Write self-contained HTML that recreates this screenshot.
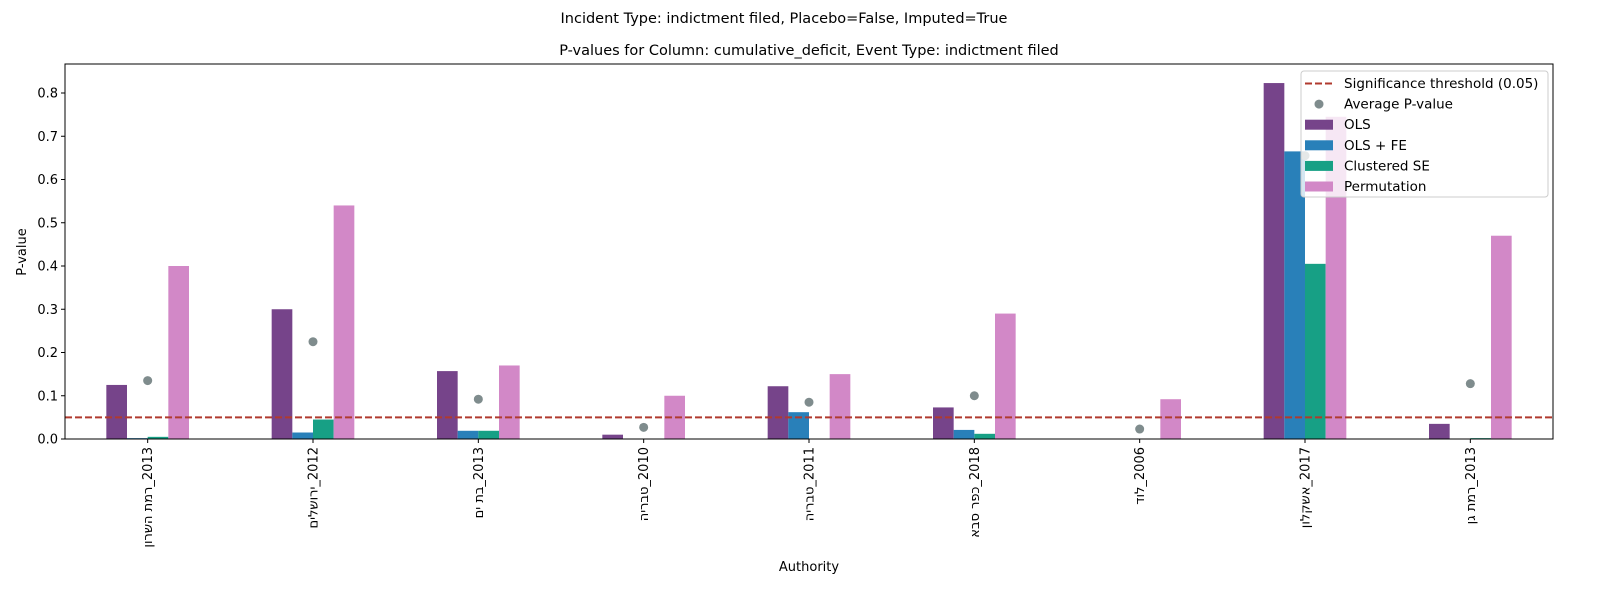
<!DOCTYPE html>
<html><head><meta charset="utf-8"><style>
body{margin:0;background:#fff}
svg text{font-family:"DejaVu Sans","Liberation Sans","Noto Sans CJK SC",sans-serif;fill:#000}
</style></head><body>
<svg id="chart" width="1600" height="600" xmlns="http://www.w3.org/2000/svg">
<text x="784" y="23" font-size="14.5" text-anchor="middle">Incident Type: indictment filed, Placebo=False, Imputed=True</text>
<text x="809" y="55" font-size="14.5" text-anchor="middle">P-values for Column: cumulative_deficit, Event Type: indictment filed</text>
<g id="plot"></g>
<text transform="translate(26,252) rotate(-90)" font-size="13" text-anchor="middle">P-value</text>
<text x="809" y="571" font-size="13" text-anchor="middle">Authority</text>
</svg>
<script>
const categories=["רמת השרון\u200E_2013","ירושלים\u200E_2012","בת ים\u200E_2013","טבריה\u200E_2010","טבריה\u200E_2011","כפר סבא\u200E_2018","לוד\u200E_2006","אשקלון\u200E_2017","רמת גן\u200E_2013"];
const olsValues=[0.125,0.30,0.157,0.010,0.122,0.073,0,0.823,0.035];
const olsFeValues=[0.002,0.015,0.019,0,0.062,0.021,0,0.665,0];
const clusteredValues=[0.005,0.045,0.019,0,0,0.012,0,0.405,0.002];
const permutationValues=[0.40,0.54,0.17,0.10,0.15,0.29,0.092,0.745,0.47];
const averageValues=[0.135,0.225,0.092,0.027,0.085,0.10,0.023,0.655,0.128];
const yTicks=[0,0.1,0.2,0.3,0.4,0.5,0.6,0.7,0.8];
const threshold=0.05;

const NS="http://www.w3.org/2000/svg";
const L=65,R=1553,T=64,B=439;
const yScale=v=>B-v*432.5;
const step=(R-L)/categories.length;
const xCenter=i=>L+step*(i+0.5);
const bw=step*0.125;
const g=document.getElementById('plot');
function mk(tag,attrs){const e=document.createElementNS(NS,tag);for(const k in attrs)e.setAttribute(k,attrs[k]);g.appendChild(e);return e;}

const series=[[olsValues,"#76448a","ols"],[olsFeValues,"#2980b9","ols-fe"],[clusteredValues,"#17a085","clustered-se"],[permutationValues,"#d288c7","permutation"]];
series.forEach((s,si)=>{
  s[0].forEach((v,i)=>{
    const x=xCenter(i)-2*bw+si*bw;
    const r=mk('rect',{x:x,y:yScale(v),width:bw,height:B-yScale(v),fill:s[1]});
    
    
  });
});
const th=mk('line',{x1:L,x2:R,y1:yScale(threshold),y2:yScale(threshold),stroke:"#b03a2e","stroke-width":2,"stroke-dasharray":"7,3"});


averageValues.forEach((v,i)=>{
  const c=mk('circle',{cx:xCenter(i),cy:yScale(v),r:4.5,fill:"#7f8c8d"});
  
  
});
yTicks.forEach(t=>{
  const y=yScale(t);
  mk('line',{x1:L-4,x2:L,y1:y,y2:y,stroke:"#000"});
  const tx=mk('text',{x:L-7,y:y+4.5,"font-size":13,"text-anchor":"end"});
  tx.textContent=t.toFixed(1);
  
  
});
categories.forEach((c,i)=>{
  const x=xCenter(i);
  mk('line',{x1:x,x2:x,y1:B,y2:B+4,stroke:"#000"});
  const tx=mk('text',{transform:`translate(${x+4.5},${B+8}) rotate(-90)`,"font-size":13,"text-anchor":"end",direction:"ltr"});
  tx.textContent=c;
  
  
});
const frame=mk('rect',{x:L,y:T,width:R-L,height:B-T,fill:"none",stroke:"#000","stroke-width":1});



const lg=mk('rect',{x:1301,y:71,width:247,height:126,rx:3,fill:"#fff","fill-opacity":0.8,stroke:"#ccc"});


const entries=[["line","#b03a2e","Significance threshold (0.05)"],["dot","#7f8c8d","Average P-value"],["rect","#76448a","OLS"],["rect","#2980b9","OLS + FE"],["rect","#17a085","Clustered SE"],["rect","#d288c7","Permutation"]];
entries.forEach((e,i)=>{
  const y=83.5+i*20.6;
  if(e[0]==="line")mk('line',{x1:1305,x2:1333,y1:y,y2:y,stroke:e[1],"stroke-width":2,"stroke-dasharray":"7,3"});
  else if(e[0]==="dot")mk('circle',{cx:1319,cy:y,r:4.5,fill:e[1]});
  else mk('rect',{x:1305,y:y-5,width:28,height:10,fill:e[1]});
  const tx=mk('text',{x:1344,y:y+4.5,"font-size":13.5});
  tx.textContent=e[2];
  
  
});
</script>
</body></html>
